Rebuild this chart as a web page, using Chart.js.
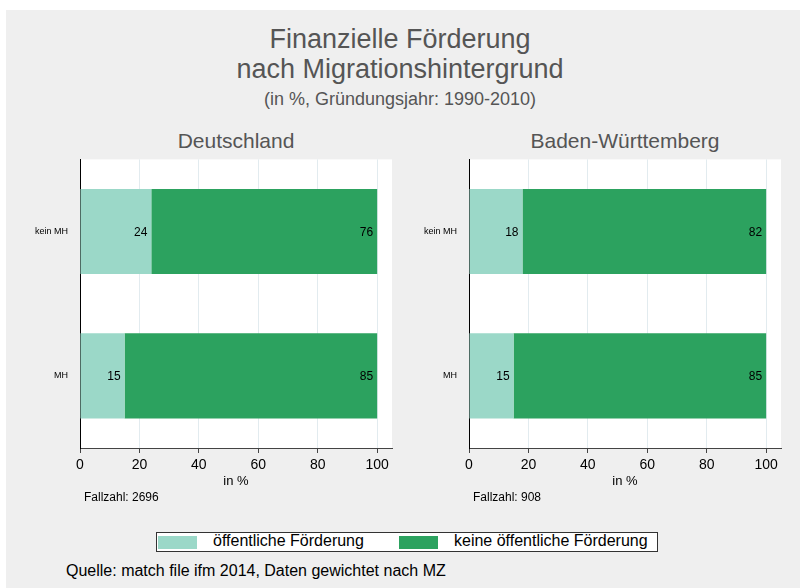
<!DOCTYPE html>
<html>
<head>
<meta charset="utf-8">
<script src="https://cdn.jsdelivr.net/npm/chart.js@4"></script>
<style>
    body { margin: 0; background: #fff; font-family: "Liberation Sans", Arial, sans-serif; }
    #page { position: relative; width: 800px; height: 588px; overflow: hidden; background: #fff; }
    #bg { position: absolute; left: 6px; top: 10px; right: 0; bottom: 0; background: #efefef; }
    .txt { position: absolute; white-space: nowrap; color: #555; }
    .center { transform: translateX(-50%); text-align: center; }
    canvas { position: absolute; }
    #legend { position: absolute; left: 156px; top: 532px; width: 500px; height: 18px; background: #fff; border: 1px solid #333; }
    .swatch { position: absolute; top: 3px; width: 39px; height: 13px; }
    .ltext { position: absolute; top: -1px; font-size: 16px; color: #000; }
</style>
</head>
<body>
<div id="page">
    <div id="bg"></div>
    <div class="txt center" style="left:400px; top:24px; font-size:27px;">Finanzielle Förderung</div>
    <div class="txt center" style="left:400px; top:54px; font-size:27px;">nach Migrationshintergrund</div>
    <div class="txt center" style="left:400px; top:89px; font-size:18px;">(in %, Gründungsjahr: 1990-2010)</div>
    <div class="txt center" style="left:236px; top:129px; font-size:21px;">Deutschland</div>
    <div class="txt center" style="left:625px; top:129px; font-size:21px;">Baden-Württemberg</div>

    <canvas id="chartDE" width="400" height="343" style="left:0; top:150px;"></canvas>
    <canvas id="chartBW" width="400" height="343" style="left:400px; top:150px;"></canvas>

    <div class="txt" id="fallDE" style="left:84px; top:490px; font-size:12px; color:#000;"></div>
    <div class="txt" id="fallBW" style="left:473px; top:490px; font-size:12px; color:#000;"></div>

    <div id="legend">
        <div class="swatch" style="left:1px; background:#9bd8c8;"></div>
        <div class="ltext" id="leg0" style="left:56px;"></div>
        <div class="swatch" style="left:242px; background:#2ca25f;"></div>
        <div class="ltext" id="leg1" style="left:297px;"></div>
    </div>
    <div class="txt" style="left:66px; top:562px; font-size:16px; color:#000;">Quelle: match file ifm 2014, Daten gewichtet nach MZ</div>
</div>

<script>
// Data
const categories = ['kein MH', 'MH'];
const seriesLabels = ['öffentliche Förderung', 'keine öffentliche Förderung'];
const deOeffentlich = [24, 15];
const deKeine = [76, 85];
const bwOeffentlich = [18, 15];
const bwKeine = [82, 85];
const fallzahlDE = 2696;
const fallzahlBW = 908;
const xTicks = [0, 20, 40, 60, 80, 100];

const colors = ['#9bd8c8', '#2ca25f'];

document.getElementById('fallDE').textContent = 'Fallzahl: ' + fallzahlDE;
document.getElementById('fallBW').textContent = 'Fallzahl: ' + fallzahlBW;
document.getElementById('leg0').textContent = seriesLabels[0];
document.getElementById('leg1').textContent = seriesLabels[1];

// white plot area
const plotBackground = {
    id: 'plotBackground',
    beforeDraw(chart) {
        const { ctx, chartArea } = chart;
        ctx.save();
        ctx.fillStyle = '#fff';
        ctx.fillRect(chartArea.left, chartArea.top, chartArea.right - chartArea.left, chartArea.bottom - chartArea.top);
        ctx.restore();
    }
};

// value labels at the inner end of each bar
const barLabels = {
    id: 'barLabels',
    afterDatasetsDraw(chart) {
        const ctx = chart.ctx;
        ctx.save();
        ctx.font = '12px "Liberation Sans", Arial, sans-serif';
        ctx.fillStyle = '#000';
        ctx.textAlign = 'right';
        ctx.textBaseline = 'middle';
        chart.data.datasets.forEach((ds, i) => {
            chart.getDatasetMeta(i).data.forEach((bar, j) => {
                ctx.fillText(ds.data[j], bar.x - 4, bar.y + 1);
            });
        });
        ctx.restore();
    }
};

function makeChart(id, oeffentlich, keine, axisWidth, padRight) {
    return new Chart(document.getElementById(id), {
        type: 'bar',
        data: {
            labels: categories,
            datasets: [{
                label: seriesLabels[0],
                data: oeffentlich,
                backgroundColor: colors[0]
            }, {
                label: seriesLabels[1],
                data: keine,
                backgroundColor: colors[1]
            }]
        },
        options: {
            indexAxis: 'y',
            responsive: false,
            animation: false,
            barPercentage: 1,
            categoryPercentage: 0.59,
            layout: { padding: { top: 6, right: padRight, left: 0, bottom: 0 } },
            plugins: {
                legend: { display: false },
                tooltip: { enabled: false }
            },
            scales: {
                x: {
                    stacked: true,
                    min: 0,
                    max: 105,
                    afterBuildTicks: scale => {
                        scale.ticks = xTicks.map(v => ({ value: v }));
                    },
                    afterFit: scale => { scale.height = 45; },
                    grid: {
                        color: ctx => ctx.tick && ctx.tick.value === 0 ? 'rgba(0,0,0,0)' : '#e2ebef',
                        tickColor: '#444',
                        tickLength: 5
                    },
                    border: { display: true, color: '#444', width: 1 },
                    ticks: {
                        padding: 4,
                        color: '#000',
                        font: { family: '"Liberation Sans", Arial, sans-serif', size: 14 }
                    },
                    title: {
                        display: true,
                        text: 'in %',
                        color: '#000',
                        padding: { top: 0, bottom: 4 },
                        font: { family: '"Liberation Sans", Arial, sans-serif', size: 13 }
                    }
                },
                y: {
                    stacked: true,
                    afterFit: scale => { scale.width = axisWidth; },
                    grid: { display: false },
                    border: { display: true, color: '#000', width: 1 },
                    ticks: {
                        padding: 4,
                        color: '#000',
                        font: { family: '"Liberation Sans", Arial, sans-serif', size: 9 }
                    }
                }
            }
        },
        plugins: [plotBackground, barLabels]
    });
}

document.addEventListener('DOMContentLoaded', () => {
    makeChart('chartDE', deOeffentlich, deKeine, 80, 8);
    makeChart('chartBW', bwOeffentlich, bwKeine, 69, 19);
});
</script>
</body>
</html>
